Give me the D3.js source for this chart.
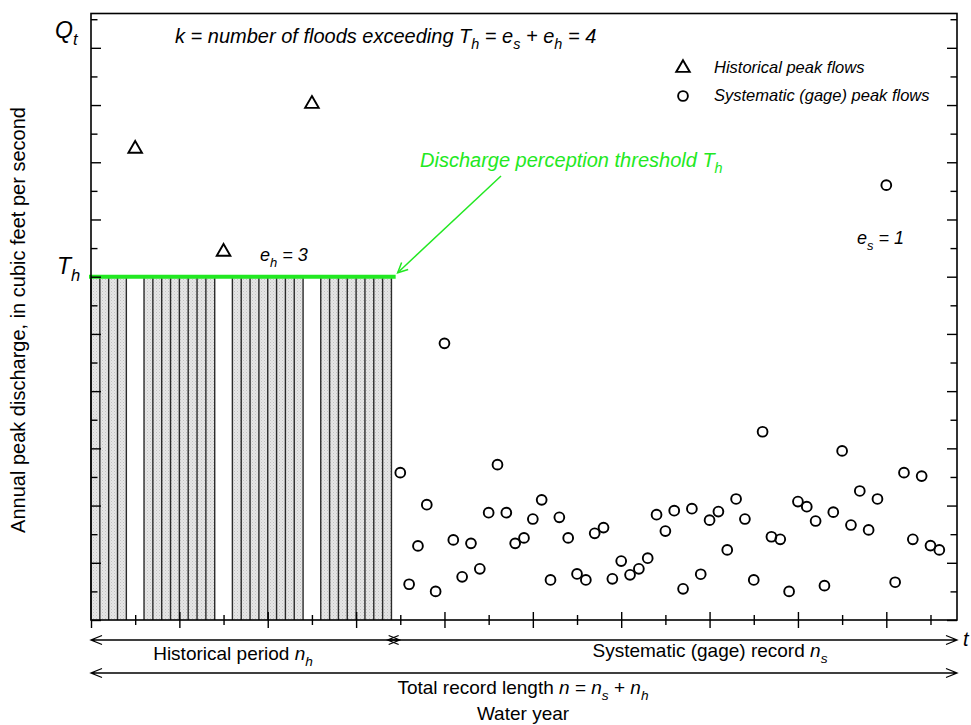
<!DOCTYPE html>
<html>
<head>
<meta charset="utf-8">
<script src="https://cdn.jsdelivr.net/npm/d3@7/dist/d3.min.js"></script>
<style>
  html, body { margin: 0; padding: 0; background: #fff; }
  svg text { font-family: "Liberation Sans", Arial, sans-serif; white-space: pre; }
</style>
</head>
<body>
<svg id="chart" width="971" height="725"></svg>
<script>
// ---- Data (water-year index, discharge in arbitrary units) ----
const recordEnd = 98;          // full x extent in years
const periodSplit = 34.25;     // boundary between historical period and gage record
const threshold = 12;          // discharge perception threshold T_h
const qTop = 21.2;             // upper limit of the discharge axis

// Historical years whose peaks stayed below T_h (each bar spans one year)
const censoredYears = [0, 1, 2, 3, 6, 7, 8, 9, 10, 11, 12, 13,
  16, 17, 18, 19, 20, 21, 22, 23, 26, 27, 28, 29, 30, 31, 32, 33];

// Historical floods known to exceed T_h
const historicalYears = [5, 15, 25];
const historicalPeaks = [16.47, 12.87, 18.04];

// Systematic (gage) annual peaks
const systematicYears = [35, 36, 37, 38, 39, 40, 41, 42, 43, 44, 45, 46, 47, 48, 49, 50,
  51, 52, 53, 54, 55, 56, 57, 58, 59, 60, 61, 62, 63, 64, 65, 66, 67, 68, 69, 70,
  71, 72, 73, 74, 75, 76, 77, 78, 79, 80, 81, 82, 83, 84, 85, 86, 87, 88, 89, 90,
  91, 92, 93, 94, 95, 96];
const systematicPeaks = [5.15, 1.25, 2.59, 4.03, 1.00, 9.67, 2.80, 1.51, 2.68, 1.79,
  3.75, 5.43, 3.75, 2.68, 2.87, 3.53, 4.20, 1.40, 3.59, 2.87, 1.61, 1.40, 3.03, 3.23,
  1.44, 2.06, 1.58, 1.79, 2.16, 3.68, 3.11, 3.82, 1.09, 3.89, 1.60, 3.49, 3.79, 2.45,
  4.23, 3.53, 1.40, 6.58, 2.91, 2.82, 1.00, 4.14, 3.96, 3.46, 1.20, 3.77, 5.91, 3.32,
  4.51, 3.15, 4.23, 15.20, 1.32, 5.15, 2.82, 5.03, 2.60, 2.45];

// Axis ticks
const xMajorTicks = [0, 10, 20, 30, 40, 50, 60, 70, 80, 90];
const xMinorTicks = [5, 15, 25, 35, 45, 55, 65, 75, 85, 95];
const yMajorTicks = [0, 2, 4, 6, 8, 10, 12, 14, 16, 18, 20];
const yMinorTicks = [1, 3, 5, 7, 9, 11, 13, 15, 17, 19, 21];

// ---- Layout ----
const plot = { left: 91, right: 957, top: 13.5, bottom: 620 };
const GREEN = "#22e822";

const svg = d3.select("#chart");
const x = d3.scaleLinear().domain([0, recordEnd]).range([plot.left, plot.right]);
const y = d3.scaleLinear().domain([0, qTop]).range([plot.bottom, plot.top]);

// Dotted light-gray fill for censored years
const defs = svg.append("defs");
const pat = defs.append("pattern").attr("id", "dots")
  .attr("patternUnits", "userSpaceOnUse").attr("width", 3).attr("height", 3);
pat.append("rect").attr("width", 3).attr("height", 3).attr("fill", "#e6e6e6");
pat.append("rect").attr("x", 0).attr("y", 0).attr("width", 1).attr("height", 1).attr("fill", "#c2c2c2");
pat.append("rect").attr("x", 1.5).attr("y", 1.5).attr("width", 1).attr("height", 1).attr("fill", "#cfcfcf");

// Helper: text with subscripts. parts: strings or {sub: "..."}
function richText(parent, px, py, parts, o) {
  const size = o.size;
  const t = parent.append("text")
    .attr("x", px).attr("y", py)
    .attr("font-size", size)
    .attr("font-style", o.italic ? "italic" : "normal")
    .attr("fill", o.fill || "#000")
    .attr("text-anchor", o.anchor || "start");
  if (o.transform) t.attr("transform", o.transform);
  let shifted = false;
  const drop = size * 0.32;
  parts.forEach(p => {
    if (typeof p === "string") {
      const s = t.append("tspan").text(p);
      if (shifted) { s.attr("dy", -drop); shifted = false; }
    } else {
      t.append("tspan").attr("dy", drop).attr("font-size", size * 0.72).text(p.sub);
      shifted = true;
    }
  });
  return t;
}

// ---- Censored-year bars ----
const bars = svg.append("g");
bars.selectAll("rect").data(censoredYears).join("rect")
  .attr("x", d => x(d)).attr("width", d => x(d + 1) - x(d))
  .attr("y", y(threshold)).attr("height", y(0) - y(threshold))
  .attr("fill", "url(#dots)");
const edges = [];
censoredYears.forEach(d => { edges.push(d); edges.push(d + 1); });
bars.selectAll("line").data(Array.from(new Set(edges))).join("line")
  .attr("x1", d => x(d)).attr("x2", d => x(d))
  .attr("y1", y(threshold)).attr("y2", y(0))
  .attr("stroke", "#2a2a2a").attr("stroke-width", 1.4);

// ---- Threshold line ----
svg.append("line")
  .attr("x1", x(0)).attr("x2", x(periodSplit))
  .attr("y1", y(threshold)).attr("y2", y(threshold))
  .attr("stroke", GREEN).attr("stroke-width", 4).attr("stroke-linecap", "square");

// ---- Axes (ticks inside the frame) ----
function styleAxis(g) {
  g.select(".domain").remove();
  g.selectAll(".tick line").attr("stroke", "#000").attr("stroke-width", 1.4);
  g.selectAll(".tick text").remove();
}
svg.append("g").attr("transform", `translate(${plot.left},0)`)
  .call(d3.axisRight(y).tickValues(yMajorTicks).tickSize(10)).call(styleAxis);
svg.append("g").attr("transform", `translate(${plot.left},0)`)
  .call(d3.axisRight(y).tickValues(yMinorTicks).tickSize(6.5)).call(styleAxis);
svg.append("g").attr("transform", `translate(${plot.right},0)`)
  .call(d3.axisLeft(y).tickValues(yMajorTicks).tickSize(10)).call(styleAxis);
svg.append("g").attr("transform", `translate(${plot.right},0)`)
  .call(d3.axisLeft(y).tickValues(yMinorTicks).tickSize(6.5)).call(styleAxis);

const xMaj = svg.append("g").attr("transform", `translate(0,${plot.bottom})`)
  .call(d3.axisBottom(x).tickValues(xMajorTicks).tickSize(8)).call(styleAxis);
xMaj.selectAll(".tick line").attr("y1", d => d === 0 ? 0 : -8);
const xMin = svg.append("g").attr("transform", `translate(0,${plot.bottom})`)
  .call(d3.axisBottom(x).tickValues(xMinorTicks).tickSize(5)).call(styleAxis);
xMin.selectAll(".tick line").attr("y1", -5);

// Frame
svg.append("rect")
  .attr("x", plot.left).attr("y", plot.top)
  .attr("width", plot.right - plot.left).attr("height", plot.bottom - plot.top)
  .attr("fill", "none").attr("stroke", "#000").attr("stroke-width", 1.6);

// ---- Peaks ----
const tri = d3.symbol().type(d3.symbolTriangle).size(80);
svg.append("g").selectAll("path").data(historicalYears).join("path")
  .attr("d", tri)
  .attr("transform", (d, i) => `translate(${x(d)},${y(historicalPeaks[i])})`)
  .attr("fill", "none").attr("stroke", "#000").attr("stroke-width", 1.9);

svg.append("g").selectAll("circle").data(systematicYears).join("circle")
  .attr("cx", d => x(d)).attr("cy", (d, i) => y(systematicPeaks[i]))
  .attr("r", 4.9)
  .attr("fill", "none").attr("stroke", "#000").attr("stroke-width", 1.9);

// ---- Legend ----
const leg = svg.append("g");
leg.append("path").attr("d", tri).attr("transform", "translate(683,68)")
  .attr("fill", "none").attr("stroke", "#000").attr("stroke-width", 1.9);
leg.append("circle").attr("cx", 683).attr("cy", 96).attr("r", 4.9)
  .attr("fill", "none").attr("stroke", "#000").attr("stroke-width", 1.9);
richText(leg, 714, 73, ["Historical peak flows"], { size: 16.5, italic: true });
richText(leg, 714, 101, ["Systematic (gage) peak flows"], { size: 16.5, italic: true });

// ---- Annotations ----
richText(svg, 55, 38, ["Q", { sub: "t" }], { size: 23, italic: true });
richText(svg, 57, 274, ["T", { sub: "h" }], { size: 23, italic: true });
richText(svg, 175, 43, ["k = number of floods exceeding T", { sub: "h" }, " = e", { sub: "s" },
  " + e", { sub: "h" }, " = 4"], { size: 20, italic: true });
richText(svg, 260, 261, ["e", { sub: "h" }, " = 3"], { size: 18, italic: true });
richText(svg, 857, 244, ["e", { sub: "s" }, " = 1"], { size: 18, italic: true });
richText(svg, 420, 167, ["Discharge perception threshold T", { sub: "h" }],
  { size: 20, italic: true, fill: GREEN });

// Pointer from the green label to the end of the threshold line
const tipX = x(periodSplit) + 4, tipY = y(threshold) - 4;
const tailX = 501, tailY = 176;
svg.append("line").attr("x1", tailX).attr("y1", tailY).attr("x2", tipX).attr("y2", tipY)
  .attr("stroke", GREEN).attr("stroke-width", 1.5);
(function () {
  const ang = Math.atan2(tipY - tailY, tipX - tailX), L = 11, w = 0.45;
  const p = d3.path();
  p.moveTo(tipX - L * Math.cos(ang - w), tipY - L * Math.sin(ang - w));
  p.lineTo(tipX, tipY);
  p.lineTo(tipX - L * Math.cos(ang + w), tipY - L * Math.sin(ang + w));
  svg.append("path").attr("d", p.toString()).attr("fill", "none")
    .attr("stroke", GREEN).attr("stroke-width", 1.5);
})();

// ---- Period arrows below the axis ----
function spanArrow(x0, x1, yy) {
  const L = 11, H = 4.5;
  const p = d3.path();
  p.moveTo(x0, yy); p.lineTo(x1, yy);
  p.moveTo(x0 + L, yy - H); p.lineTo(x0, yy); p.lineTo(x0 + L, yy + H);
  p.moveTo(x1 - L, yy - H); p.lineTo(x1, yy); p.lineTo(x1 - L, yy + H);
  svg.append("path").attr("d", p.toString()).attr("fill", "none")
    .attr("stroke", "#000").attr("stroke-width", 1.3);
}
const split = x(periodSplit);
spanArrow(x(0), split + 6, 640);
spanArrow(split - 6, x(recordEnd), 640);
spanArrow(x(0), x(recordEnd), 673);

richText(svg, 963, 646, ["t"], { size: 20, italic: true });
richText(svg, 233, 660, ["Historical period ", "n", { sub: "h" }], { size: 19, anchor: "middle" });
richText(svg, 710, 657, ["Systematic (gage) record ", "n", { sub: "s" }], { size: 19, anchor: "middle" });
richText(svg, 523, 694, ["Total record length ", "n", " = ", "n", { sub: "s" }, " + ", "n", { sub: "h" }],
  { size: 19, anchor: "middle" });
richText(svg, 523, 720, ["Water year"], { size: 19, anchor: "middle" });

// Italicise the variable names inside the bottom labels
svg.selectAll("tspan").filter(function () {
  const s = d3.select(this).text();
  return s === "n" || s === "s" || s === "h";
}).attr("font-style", "italic");

// Y-axis title
richText(svg, 0, 0, ["Annual peak discharge, in cubic feet per second"],
  { size: 20, anchor: "middle", transform: "translate(25,320) rotate(-90)" });
</script>
</body>
</html>
